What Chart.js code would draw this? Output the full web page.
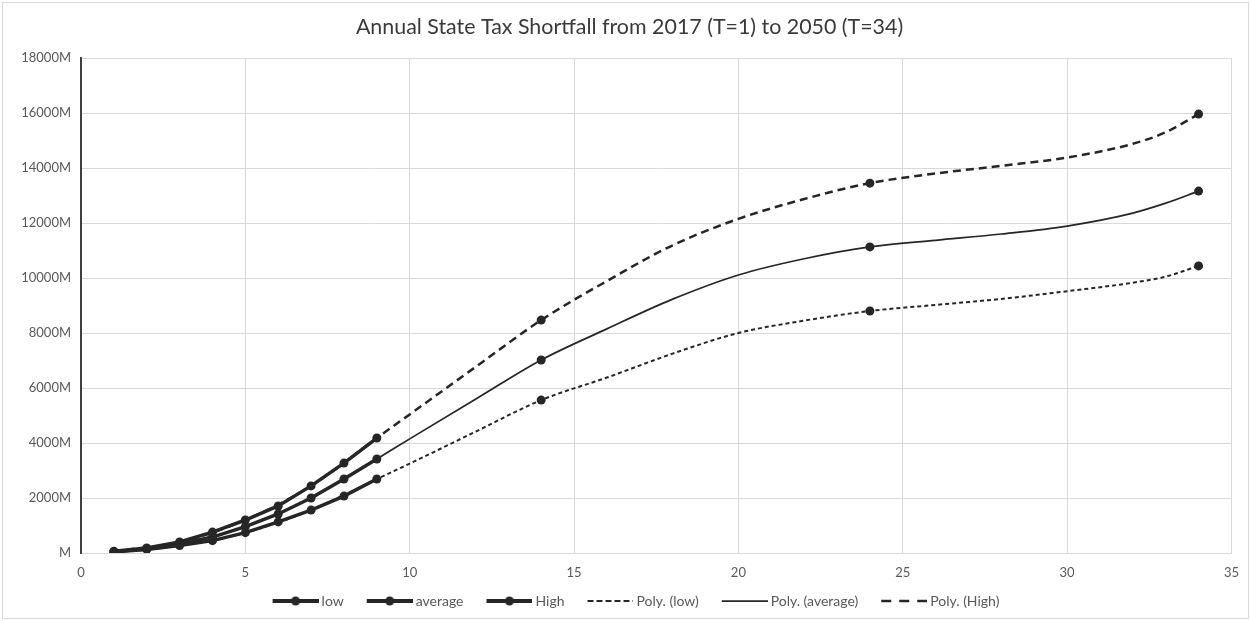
<!DOCTYPE html>
<html>
<head>
<meta charset="utf-8">
<script src="https://cdn.jsdelivr.net/npm/chart.js@4/dist/chart.umd.min.js"></script>
<style>
  html, body { margin: 0; padding: 0; background: #fff; }
  #wrap { position: relative; width: 1251px; height: 621px; }
</style>
</head>
<body>
<div id="wrap"><canvas id="chart" width="1251" height="621"></canvas></div>
<script>
// Observed shortfall by period T (millions)
const periods = [1, 2, 3, 4, 5, 6, 7, 8, 9, 14, 24, 34];
const lowShortfall     = [40, 130, 270, 450, 740, 1130, 1560, 2070, 2690, 5560, 8800, 10440];
const averageShortfall = [50, 150, 330, 580, 960, 1420, 2000, 2690, 3420, 7020, 11130, 13160];
const highShortfall    = [60, 180, 400, 760, 1200, 1710, 2440, 3270, 4180, 8470, 13450, 15960];

// Polynomial trend curves, sampled along T
const trendPeriods = [1, 3, 5, 7, 9, 10, 12, 14, 16, 18, 20, 22, 24, 26, 28, 30, 32, 33, 34];
const trendLow     = [40, 270, 740, 1560, 2690, 3250, 4410, 5560, 6380, 7250, 8000, 8450, 8800, 9020, 9240, 9520, 9830, 10050, 10440];
const trendAverage = [50, 330, 960, 2000, 3420, 4150, 5590, 7020, 8150, 9230, 10110, 10700, 11130, 11370, 11600, 11890, 12360, 12720, 13160];
const trendHigh    = [60, 400, 1200, 2440, 4180, 5040, 6760, 8470, 9890, 11190, 12150, 12870, 13450, 13800, 14080, 14380, 14880, 15300, 15960];

// Axis ticks
const xTickValues = [0, 5, 10, 15, 20, 25, 30, 35];
const xTickLabels = ['0', '5', '10', '15', '20', '25', '30', '35'];
const yTickValues = [0, 2000, 4000, 6000, 8000, 10000, 12000, 14000, 16000, 18000];
const yTickLabels = ['M', '2000M', '4000M', '6000M', '8000M', '10000M', '12000M', '14000M', '16000M', '18000M'];

const INK = '#262626';
const toPoints = (xs, ys) => xs.map((x, i) => ({ x: x, y: ys[i] }));

// Legend swatch: a 46px line sample sitting at the right of a 61px canvas
function legendSwatch(width, dash, withDot) {
  const cv = document.createElement('canvas');
  cv.width = 61; cv.height = 14;
  const g = cv.getContext('2d');
  g.strokeStyle = INK;
  g.lineWidth = width;
  g.setLineDash(dash);
  g.beginPath(); g.moveTo(15, 7); g.lineTo(61, 7); g.stroke();
  if (withDot) {
    g.fillStyle = INK;
    g.beginPath(); g.arc(38, 7, 4.5, 0, Math.PI * 2); g.fill();
  }
  return cv;
}

function seriesDataset(label, values) {
  return {
    label: label,
    data: toPoints(periods, values),
    borderColor: INK,
    backgroundColor: INK,
    borderWidth: 3.5,
    pointRadius: 4.5,
    pointHoverRadius: 4.5,
    pointBackgroundColor: INK,
    pointBorderWidth: 0,
    tension: 0,
    // the connecting line only runs through the yearly points T=1..9
    segment: { borderColor: ctx => (ctx.p1.parsed.x > 9 ? 'rgba(0,0,0,0)' : undefined) },
    swatch: legendSwatch(4, [], true)
  };
}

function trendDataset(label, values, width, dash, legendDash) {
  return {
    label: label,
    data: toPoints(trendPeriods, values),
    borderColor: INK,
    borderWidth: width,
    borderDash: dash,
    pointRadius: 0,
    pointHoverRadius: 0,
    cubicInterpolationMode: 'monotone',
    fill: false,
    swatch: legendSwatch(width, legendDash, false)
  };
}

// White page with a thin grey frame
const framePlugin = {
  id: 'frame',
  beforeDraw(chart) {
    const c = chart.ctx;
    c.save();
    c.fillStyle = '#ffffff';
    c.fillRect(0, 0, chart.width, chart.height);
    c.strokeStyle = '#d9d9d9';
    c.lineWidth = 1;
    c.strokeRect(2.5, 2.5, chart.width - 5, chart.height - 5);
    c.restore();
  }
};

// Nudge title and legend so they sit centred on the whole card rather than the padded area
const boxOffsets = {
  id: 'boxOffsets',
  afterLayout(chart) {
    const t = chart.titleBlock;
    if (t) { t.left += 13; t.right += 13; }
    const l = chart.legend;
    if (l) { l.left += 14; l.right += 14; l.top += 1.4; l.bottom += 1.4; }
  }
};

Chart.defaults.font.family = 'Lato, "Open Sans", sans-serif';

new Chart(document.getElementById('chart'), {
  type: 'line',
  data: {
    datasets: [
      seriesDataset('low', lowShortfall),
      seriesDataset('average', averageShortfall),
      seriesDataset('High', highShortfall),
      trendDataset('Poly. (low)', trendLow, 2, [4, 3], [6, 3]),
      trendDataset('Poly. (average)', trendAverage, 1.75, [], []),
      trendDataset('Poly. (High)', trendHigh, 2.5, [8, 5], [10, 8])
    ]
  },
  options: {
    responsive: false,
    animation: false,
    layout: { padding: { left: 0, right: 18, top: 0, bottom: 4.4 } },
    plugins: {
      title: {
        display: true,
        text: 'Annual State Tax Shortfall from 2017 (T=1) to 2050 (T=34)',
        color: '#3a3a3a',
        font: { size: 21.4, weight: 'normal' },
        padding: { top: 14.16, bottom: 18.16 }
      },
      legend: {
        position: 'bottom',
        labels: {
          usePointStyle: true,
          pointStyleWidth: 53,
          padding: 12,
          color: '#595959',
          font: { size: 14 },
          generateLabels: chart => chart.data.datasets.map((ds, i) => ({
            text: ds.label,
            datasetIndex: i,
            fontColor: '#595959',
            fillStyle: 'rgba(0,0,0,0)',
            strokeStyle: 'rgba(0,0,0,0)',
            lineWidth: 0,
            pointStyle: ds.swatch,
            hidden: false
          }))
        }
      },
      tooltip: { enabled: false }
    },
    scales: {
      x: {
        type: 'linear',
        min: 0,
        max: 35,
        afterBuildTicks: s => { s.ticks = xTickValues.map(v => ({ value: v })); },
        afterFit: s => { s.height = 27.6; },
        ticks: {
          color: '#595959',
          font: { size: 13 },
          padding: 12,
          maxRotation: 0,
          callback: (v, i) => xTickLabels[i]
        },
        grid: { color: '#d9d9d9', lineWidth: 1, drawTicks: false },
        border: { color: '#d9d9d9', width: 1 }
      },
      y: {
        min: 0,
        max: 18000,
        afterBuildTicks: s => { s.ticks = yTickValues.map(v => ({ value: v })); },
        afterFit: s => { s.width = 81; },
        ticks: {
          color: '#595959',
          font: { size: 13 },
          padding: 10,
          callback: (v, i) => yTickLabels[i]
        },
        grid: { color: '#d9d9d9', lineWidth: 1, drawTicks: false },
        border: { color: '#404040', width: 2 }
      }
    }
  },
  plugins: [framePlugin, boxOffsets]
});
</script>
</body>
</html>
